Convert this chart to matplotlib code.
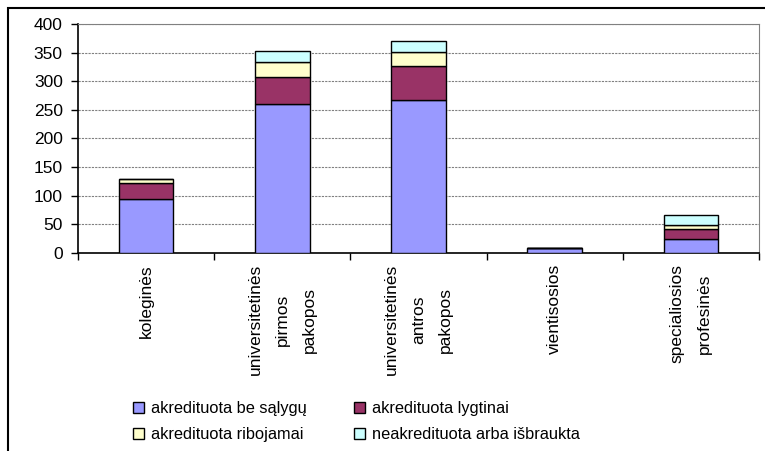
import matplotlib.pyplot as plt
import numpy as np
from matplotlib.patches import Rectangle

# Data
categories = ['koleginės', 'universitetinės\npirmos\npakopos',
              'universitetinės\nantros\npakopos', 'vientisosios',
              'specialiosios\nprofesinės']
be_salygu = [94, 261, 268, 8, 24]
lygtinai = [28, 46, 58, 0, 18]
ribojamai = [7, 26, 25, 0, 7]
neakredituota = [0, 19, 19, 0, 17]

series_names = ['akredituota be sąlygų', 'akredituota lygtinai',
                'akredituota ribojamai', 'neakredituota arba išbraukta']
colors = ['#9999FF', '#993366', '#FFFFCC', '#CCFFFF']

plt.rcParams['font.family'] = ['Liberation Sans', 'DejaVu Sans']

fig = plt.figure(figsize=(7.65, 4.51), dpi=100, facecolor='white')
ax = fig.add_axes([0.102, 0.439, 0.890, 0.508])

# outer chart frame (cut off at right and bottom like the original)
fig.patches.append(Rectangle((8 / 765, -0.1), 1.2, 1 - 8 / 451 + 0.1,
                             transform=fig.transFigure, fill=False,
                             edgecolor='black', linewidth=1.5))

x = np.arange(len(categories))
width = 0.4
bottom = np.zeros(len(categories))
handles = []
for vals, name, c in zip([be_salygu, lygtinai, ribojamai, neakredituota],
                         series_names, colors):
    b = ax.bar(x, vals, width, bottom=bottom, color=c, edgecolor='black',
               linewidth=1, label=name, zorder=3)
    handles.append(b)
    bottom += np.array(vals)

ax.set_xlim(-0.5, 4.5)
ax.set_ylim(0, 400)
ax.set_yticks(np.arange(0, 401, 50))
ax.yaxis.grid(True, linestyle=(0, (2, 1)), color='#808080', linewidth=0.8)
ax.set_axisbelow(True)

ax.set_xticks(np.arange(-0.5, 4.6, 1))
ax.set_xticklabels([])
ax.set_xticks(x, minor=True)
ax.set_xticklabels(categories, minor=True, rotation=90, ha='center', va='top',
                   multialignment='center', linespacing=2.0, fontsize=12.5)
ax.tick_params(axis='x', which='minor', length=0, pad=8)
ax.tick_params(axis='x', which='major', length=5, direction='out', width=1)
ax.tick_params(axis='y', length=5, direction='out', width=1, labelsize=12.5, pad=6)

for s in ['top', 'right']:
    ax.spines[s].set_color('#808080')
for s in ['left', 'bottom']:
    ax.spines[s].set_color('black')
    ax.spines[s].set_linewidth(1.2)

# Legend: two rows, two columns
order = [0, 2, 1, 3]
fig.legend([handles[i] for i in order], [series_names[i] for i in order],
           ncol=2, frameon=False, loc='center left',
           bbox_to_anchor=(0.154, 0.065), fontsize=11.8,
           handlelength=0.7, handleheight=0.7, handletextpad=0.4,
           columnspacing=2.9, labelspacing=0.65)

plt.savefig('out.png', dpi=100, facecolor='white')
